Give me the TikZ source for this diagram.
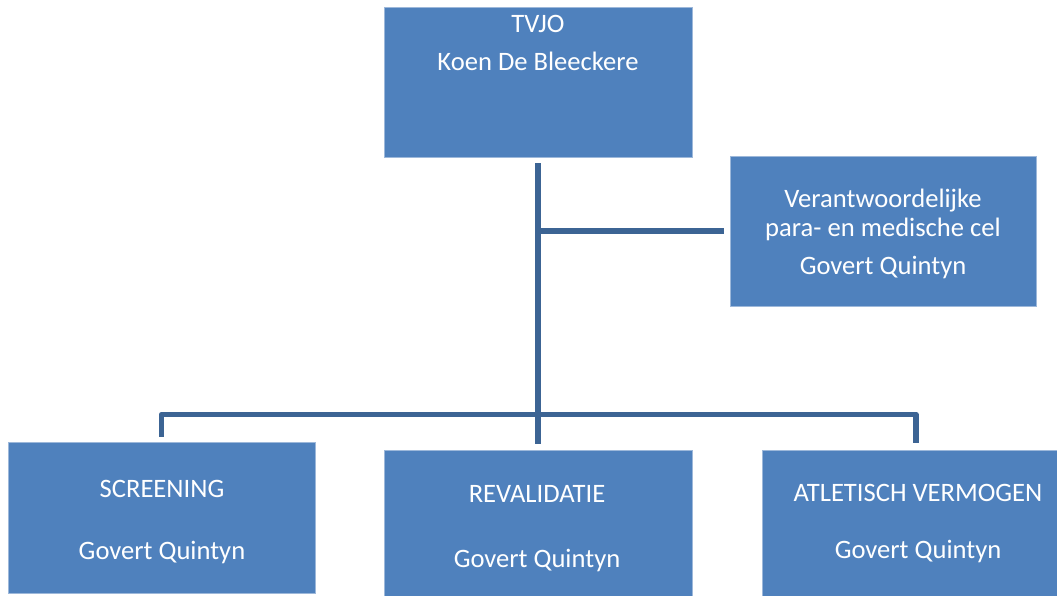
\documentclass[tikz,border=0pt]{standalone}
\usepackage{fontspec}
\setmainfont{Carlito}
\definecolor{boxblue}{HTML}{4F81BD}
\definecolor{boxedge}{HTML}{9DB8DA}
\definecolor{linkblue}{HTML}{3C6494}
\tikzset{
  box/.style={rectangle, fill=boxblue, draw=boxedge, line width=0.8pt, inner sep=0pt},
  txt/.style={anchor=base, text=white, inner sep=0pt, font=\fontsize{26.6}{32}\selectfont},
  conn/.style={draw=linkblue, line width=5.5pt, line join=round, line cap=butt}
}
\begin{document}
\begin{tikzpicture}[x=1pt,y=-1pt]
\clip (0,0) rectangle (1057,595);
\fill[white] (0,0) rectangle (1057,595);
% boxes
\node[box, minimum width=308pt, minimum height=150pt] (b0) at (538,82) {};
\node[box, minimum width=306pt, minimum height=150pt] (b1) at (883,231) {};
\node[box, minimum width=307pt, minimum height=151pt] (b2) at (161.5,517.5) {};
\node[box, minimum width=308pt, minimum height=150pt] (b3) at (538,525) {};
\node[box, minimum width=308pt, minimum height=150pt] (b4) at (916,525) {};
% texts
\node[txt] (t0a) at (538,32) {TVJO};
\node[txt] (t0b) at (538,70) {Koen De Bleeckere};
\node[txt] (t1a) at (883,207) {Verantwoordelijke};
\node[txt] (t1b) at (883,236) {para- en medische cel};
\node[txt] (t1c) at (883,274) {Govert Quintyn};
\node[txt] (t2a) at (162,497) {SCREENING};
\node[txt] (t2b) at (162,559) {Govert Quintyn};
\node[txt] (t3a) at (537,502) {REVALIDATIE};
\node[txt] (t3b) at (537,567) {Govert Quintyn};
\node[txt] (t4a) at (918,501) {ATLETISCH VERMOGEN};
\node[txt] (t4b) at (918,558) {Govert Quintyn};
% connectors
\coordinate (bar) at (538,414.5);
\draw[conn] ([yshift=-6pt]b0.south) -- ([yshift=6pt]b3.north);
\draw[conn] (b0.south |- b1.west) -- ([xshift=-6pt]b1.west);
\draw[conn] ([yshift=5pt]b2.north) -- (b2.north |- bar) -- (b4.north |- bar) -- ([yshift=7pt]b4.north);
\end{tikzpicture}
\end{document}
